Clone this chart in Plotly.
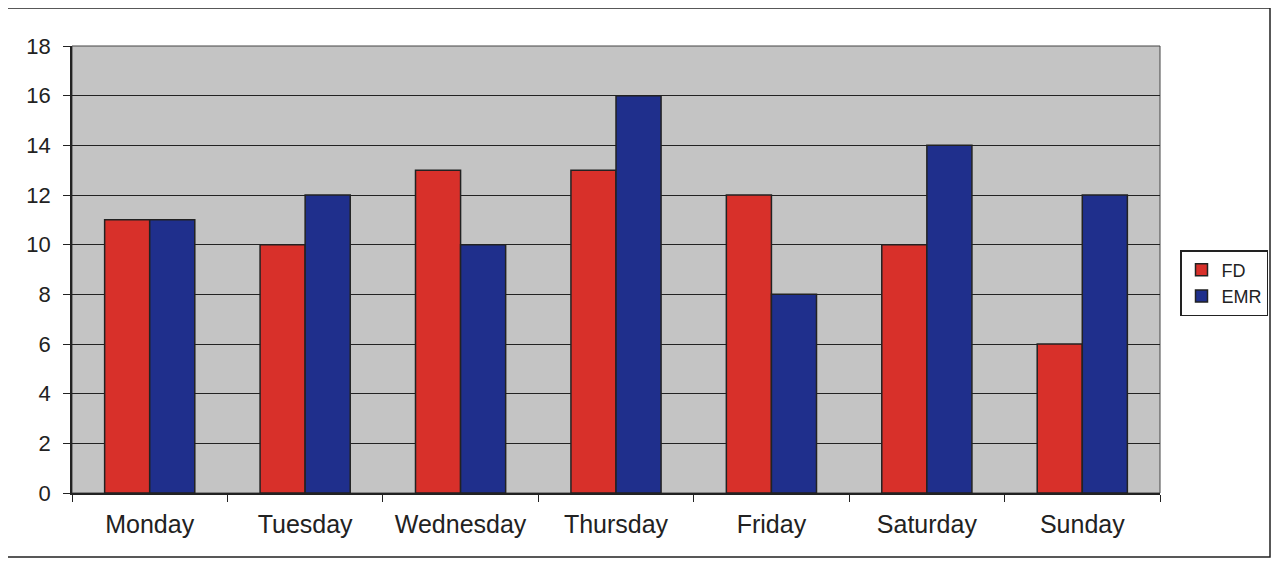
import plotly.graph_objects as go

days = ["Monday", "Tuesday", "Wednesday", "Thursday", "Friday", "Saturday", "Sunday"]
fd = [11, 10, 13, 13, 12, 10, 6]
emr = [11, 12, 10, 16, 8, 14, 12]

fig = go.Figure()
fig.add_trace(go.Bar(name="FD", x=days, y=fd, marker=dict(color="#d8302a", line=dict(color="#222222", width=1.5))))
fig.add_trace(go.Bar(name="EMR", x=days, y=emr, marker=dict(color="#1f2f8c", line=dict(color="#222222", width=1.5))))

OFF = 8  # page body margin
L, R, T, B = 72 - OFF, 1160 - OFF, 46 - OFF, 493 - OFF
FW, FH = 1264, 550
W, H = R - L, B - T

def px(x):
    return (x - OFF - L) / W

def py(y):
    return (B - (y - OFF)) / H

fig.update_layout(
    width=FW, height=FH,
    margin=dict(l=L, r=FW - R, t=T, b=FH - B, autoexpand=False),
    paper_bgcolor="white",
    plot_bgcolor="#c4c4c4",
    barmode="group",
    bargap=0.42,
    bargroupgap=0,
    font=dict(family="Liberation Sans, Arial", color="#222222"),
    legend=dict(
        x=px(1180), y=py(250), xanchor="left", yanchor="top",
        bordercolor="#222222", borderwidth=1.5, bgcolor="white",
        font=dict(size=18), itemwidth=30, tracegroupgap=0,
    ),
    xaxis=dict(
        tickfont=dict(size=25), showline=True, linecolor="#222222", linewidth=1.5,
        ticks="outside", tickson="boundaries", ticklen=7, tickcolor="#222222",
        showgrid=False, ticklabelstandoff=8,
    ),
    yaxis=dict(
        range=[0, 18], dtick=2, tickfont=dict(size=22), showline=True,
        linecolor="#222222", linewidth=1.5, ticks="outside", ticklen=7,
        tickcolor="#222222", showgrid=True, gridcolor="#222222", gridwidth=1.2,
        zeroline=False, mirror=False, ticklabelstandoff=8,
    ),
    shapes=[
        dict(type="rect", xref="paper", yref="paper", x0=px(5), x1=px(1270), y0=py(557), y1=py(8),
             line=dict(color="#222222", width=1.5), layer="below"),
        dict(type="rect", xref="paper", yref="paper", x0=0, x1=1, y0=0, y1=1,
             line=dict(color="#444444", width=1), layer="below"),
    ],
)

fig.write_html("out.html")
